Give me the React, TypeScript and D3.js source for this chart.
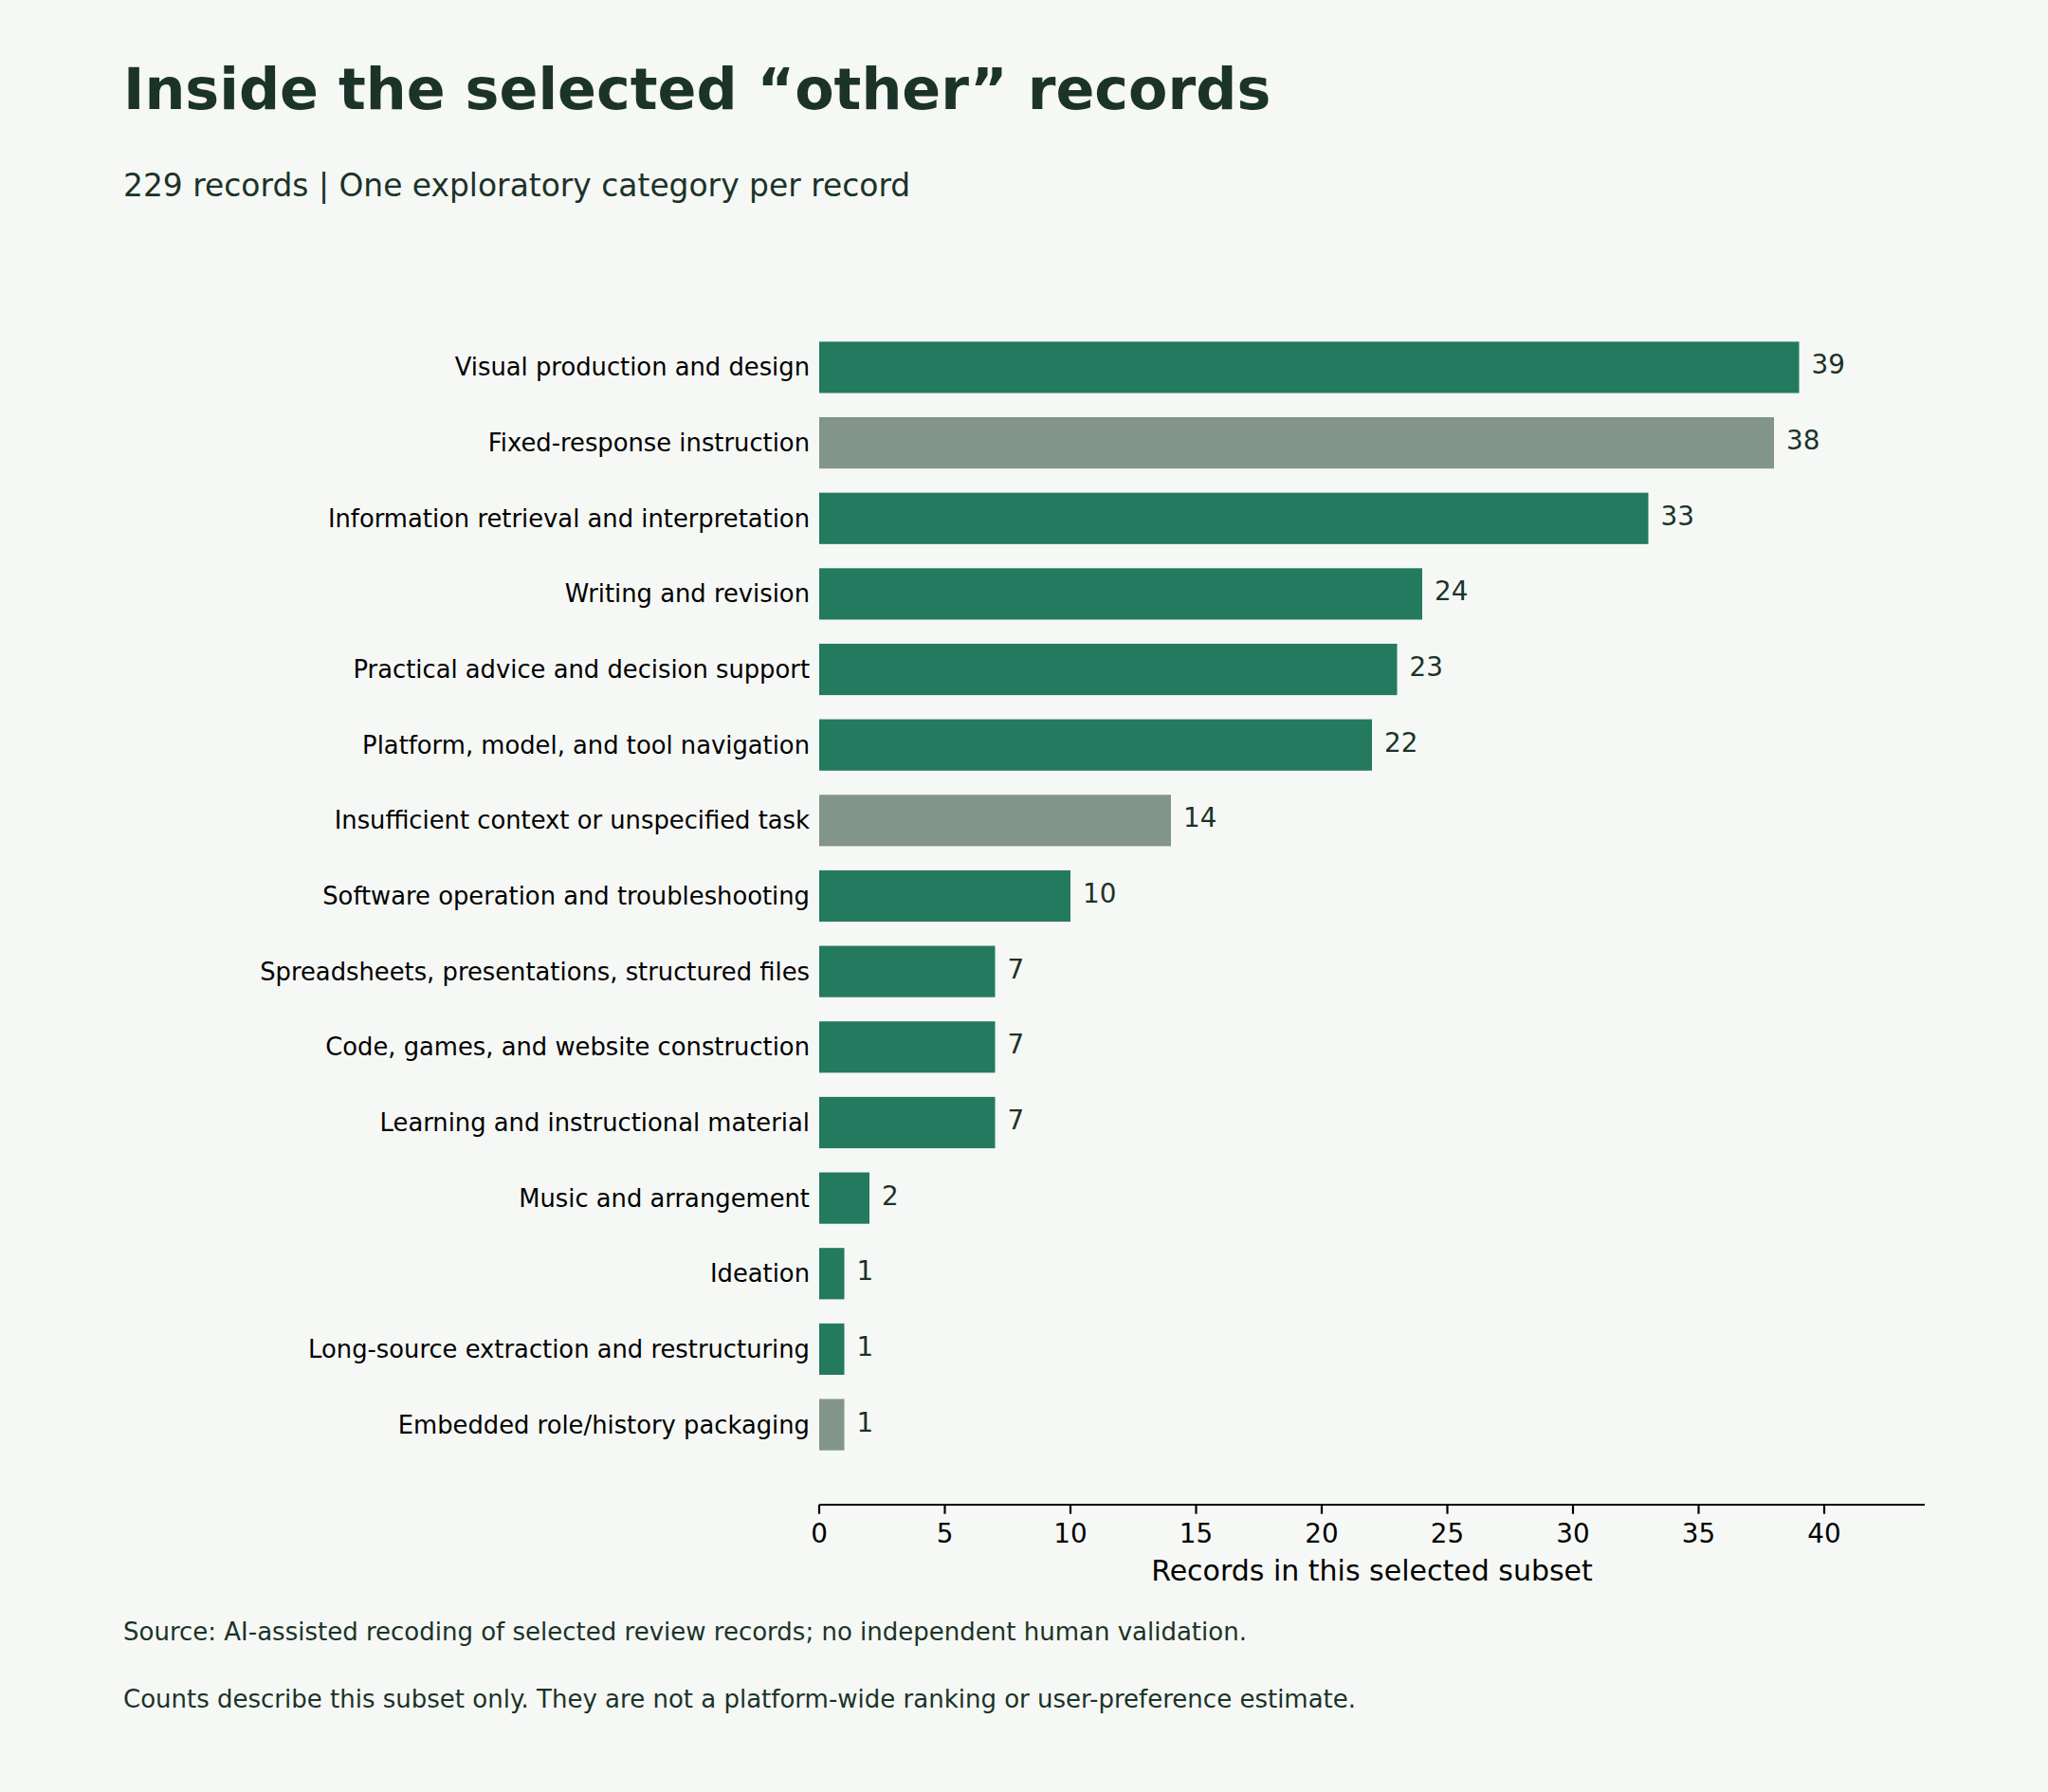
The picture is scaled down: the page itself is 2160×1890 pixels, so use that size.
import React from 'react';
import * as d3 from 'd3';

const categories = [
    'Visual production and design',
    'Fixed-response instruction',
    'Information retrieval and interpretation',
    'Writing and revision',
    'Practical advice and decision support',
    'Platform, model, and tool navigation',
    'Insufficient context or unspecified task',
    'Software operation and troubleshooting',
    'Spreadsheets, presentations, structured files',
    'Code, games, and website construction',
    'Learning and instructional material',
    'Music and arrangement',
    'Ideation',
    'Long-source extraction and restructuring',
    'Embedded role/history packaging',
];
const counts = [39, 38, 33, 24, 23, 22, 14, 10, 7, 7, 7, 2, 1, 1, 1];
// non-task buckets are drawn in grey
const neutralCategories = [
    'Fixed-response instruction',
    'Insufficient context or unspecified task',
    'Embedded role/history packaging',
];
const xTicks = [0, 5, 10, 15, 20, 25, 30, 35, 40];

const title = 'Inside the selected \u201cother\u201d records';
const subtitle = '229 records | One exploratory category per record';
const xLabel = 'Records in this selected subset';
const notes = [
    'Source: AI-assisted recoding of selected review records; no independent human validation.',
    'Counts describe this subset only. They are not a platform-wide ranking or user-preference estimate.',
];

const W = 2160;
const H = 1890;
const BG = '#f6f8f5';
const GREEN = '#237a5f';
const GREY = '#82958a';
const INK = '#1b3329';
const FONT = '"DejaVu Sans", sans-serif';

const margin = { left: 864, right: 130, top: 303, axisY: 1587 };

const App: React.FC = () => {
    const xScale = d3.scaleLinear()
        .domain([0, 44])
        .range([margin.left, W - margin.right]);

    const yScale = d3.scaleBand<string>()
        .domain(categories)
        .range([margin.top, margin.axisY])
        .paddingInner(0.32)
        .paddingOuter(0.72);

    const bw = yScale.bandwidth();

    return (
        <div style={{ position: 'absolute', left: 0, top: 0 }}>
            <svg width={W} height={H} style={{ display: 'block', background: BG }} fontFamily={FONT}>
                <rect x={0} y={0} width={W} height={H} fill={BG} />

                <text x={130} y={115} fontSize={60.3} fontWeight="bold" fill={INK}>{title}</text>
                <text x={130} y={207} fontSize={32.9} fill={INK}>{subtitle}</text>

                {categories.map((c, i) => {
                    const y0 = yScale(c) ?? 0;
                    const cy = y0 + bw / 2;
                    return (
                        <g key={c}>
                            <rect
                                x={xScale(0)}
                                y={y0}
                                width={xScale(counts[i]) - xScale(0)}
                                height={bw}
                                fill={neutralCategories.includes(c) ? GREY : GREEN}
                            />
                            <text x={xScale(0) - 10} y={cy} dy="0.35em" textAnchor="end" fontSize={25.8} fill="#000">
                                {c}
                            </text>
                            <text x={xScale(counts[i]) + 13} y={cy + 7} fontSize={27.8} fill={INK}>
                                {counts[i]}
                            </text>
                        </g>
                    );
                })}

                {/* x axis */}
                <line x1={xScale(0)} x2={xScale(44)} y1={margin.axisY} y2={margin.axisY} stroke="#000" strokeWidth={2.2} />
                {xTicks.map(t => (
                    <g key={t}>
                        <line x1={xScale(t)} x2={xScale(t)} y1={margin.axisY} y2={margin.axisY + 9.7} stroke="#000" strokeWidth={2.2} />
                        <text x={xScale(t)} y={1627} textAnchor="middle" fontSize={27.8} fill="#000">{t}</text>
                    </g>
                ))}
                <text x={(xScale(0) + xScale(44)) / 2} y={1667} textAnchor="middle" fontSize={30} fill="#000">{xLabel}</text>

                {notes.map((n, i) => (
                    <text key={i} x={130} y={1730 + i * 71} fontSize={26} fill={INK}>{n}</text>
                ))}
            </svg>
        </div>
    );
};

export default App;
